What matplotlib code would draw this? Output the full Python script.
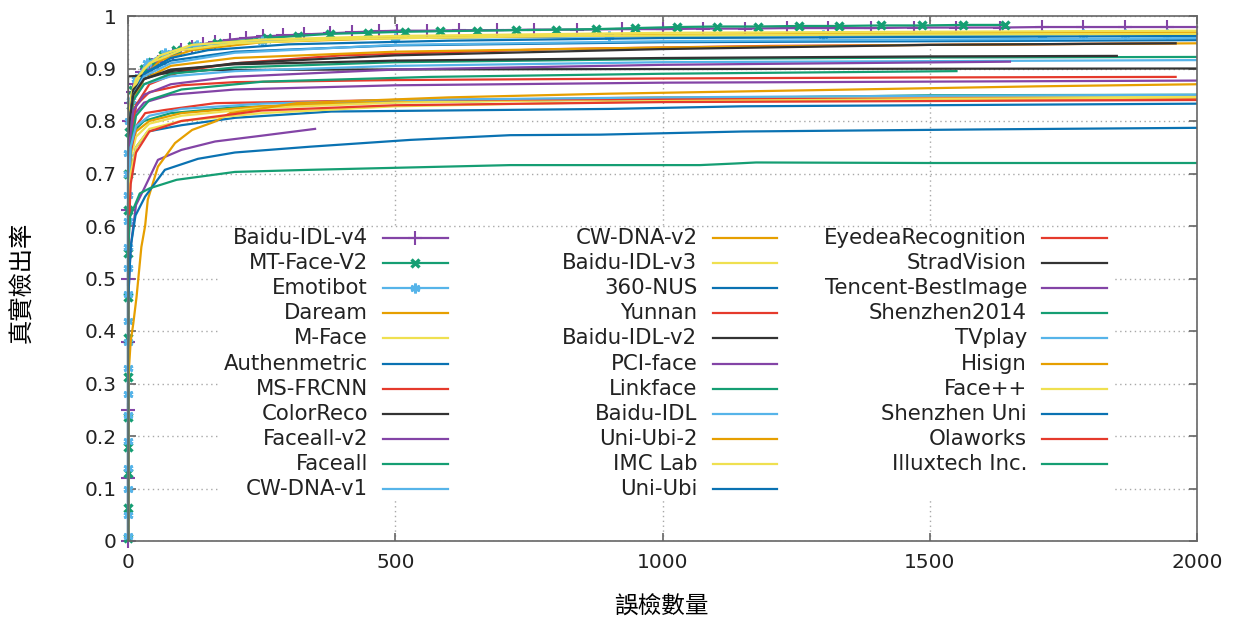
import matplotlib
matplotlib.use("Agg")
import matplotlib.pyplot as plt
from matplotlib.patches import Rectangle
from matplotlib.ticker import FuncFormatter

# FDDB discrete ROC: false positives vs. true positive rate
names = [
    "Baidu-IDL-v4", "MT-Face-V2", "Emotibot", "Daream", "M-Face", "Authenmetric",
    "MS-FRCNN", "ColorReco", "Faceall-v2", "Faceall", "CW-DNA-v1",
    "CW-DNA-v2", "Baidu-IDL-v3", "360-NUS", "Yunnan", "Baidu-IDL-v2", "PCI-face",
    "Linkface", "Baidu-IDL", "Uni-Ubi-2", "IMC Lab", "Uni-Ubi",
    "EyedeaRecognition", "StradVision", "Tencent-BestImage", "Shenzhen2014",
    "TVplay", "Hisign", "Face++", "Shenzhen Uni", "Olaworks", "Illuxtech Inc.",
]

fp_counts = [
    [0, 0, 0, 0, 0, 0, 2, 5, 9, 14, 20, 27, 35, 45, 57, 70, 85, 100, 120, 140, 163, 190,
     220, 253, 290, 330, 378, 420, 470, 503, 560, 620, 690, 760, 840, 924, 1000, 1076,
     1154, 1233, 1310, 1390, 1470, 1550, 1631, 1710, 1787, 1865, 1944, 2000],
    [0, 0, 0, 0, 0, 0, 0, 0, 0, 0, 0, 2, 5, 10, 18, 30, 45, 65, 90, 120, 166, 260, 318,
     378, 449, 518, 584, 653, 725, 800, 875, 949, 1027, 1102, 1179, 1255, 1330, 1408,
     1485, 1562, 1641],
    [0, 0, 0, 0, 0, 0, 0, 0, 0, 0, 0, 0, 0, 0, 0, 0, 0, 2, 6, 15, 35, 70, 130, 250, 500,
     900, 1300, 1710, 1787, 1865, 1944, 2000],
    [0, 0, 3, 10, 25, 60, 120, 250, 500, 1000, 1500, 2000],
    [0, 0, 2, 6, 15, 30, 60, 120, 250, 500, 1000, 2000],
    [0, 0, 3, 10, 30, 80, 150, 300, 600, 1000, 2000],
    [0, 0, 5, 15, 40, 100, 200, 400, 800, 1200, 1960],
    [0, 0, 20, 60, 150, 400, 1000, 2000],
    [0, 0, 3, 10, 30, 80, 200, 500, 1000, 2000],
    [0, 0, 3, 10, 30, 80, 200, 500, 1000, 1500, 2000],
    [0, 0, 3, 10, 30, 80, 200, 500, 1000, 2000],
    [0, 0, 3, 10, 30, 80, 200, 500, 1000, 1500, 2000],
    [0, 0, 2, 6, 15, 40, 100, 200, 400, 800, 1500, 2000],
    [0, 0, 3, 10, 30, 80, 200, 500, 1000, 2000],
    [0, 0, 5, 15, 40, 100, 200, 500, 1000, 1500, 1960],
    [0, 0, 3, 10, 30, 80, 200, 500, 1000, 1500, 1960],
    [0, 0, 5, 15, 32, 56, 100, 163, 250, 350],
    [0, 0, 3, 10, 30, 80, 200, 500, 1000, 1500, 2000],
    [0, 0, 3, 10, 30, 80, 200, 500, 1000, 2000],
    [0, 0, 5, 15, 40, 100, 250, 500, 1000, 2000],
    [0, 0, 5, 15, 40, 100, 250, 500, 1000, 2000],
    [0, 0, 5, 15, 37, 100, 200, 380, 900, 1150, 2000],
    [0, 0, 5, 15, 32, 69, 163, 500, 1000, 2000],
    [0, 0, 3, 10, 30, 80, 200, 500, 1000, 1500, 1850],
    [0, 0, 3, 10, 30, 80, 191, 500, 1000, 1650],
    [0, 0, 5, 15, 40, 100, 253, 565, 1000, 1550],
    [0, 0, 5, 15, 40, 100, 250, 500, 1000, 1500, 2000],
    [0, 0, 5, 10, 16, 25, 32, 37, 56, 88, 120, 163, 191, 316, 600, 900, 1300, 1700, 2000],
    [0, 0, 5, 15, 40, 100, 250, 500, 1000, 2000],
    [0, 0, 5, 14, 32, 69, 131, 200, 340, 528, 715, 883, 1150, 1600, 2000],
    [0, 0, 5, 15, 40, 100, 250, 500, 1000, 2000],
    [0, 0, 4, 22, 41, 91, 200, 340, 715, 1070, 1135, 1175, 1500, 2000],
]

detect_rates = [
    [0, 0.12, 0.25, 0.38, 0.5, 0.63, 0.80, 0.835, 0.855, 0.87, 0.882, 0.893, 0.90, 0.906,
     0.913, 0.92, 0.928, 0.935, 0.941, 0.946, 0.951, 0.955, 0.958, 0.961, 0.963, 0.965,
     0.967, 0.969, 0.971, 0.972, 0.972, 0.973, 0.973, 0.974, 0.974, 0.975, 0.975, 0.976,
     0.976, 0.977, 0.977, 0.977, 0.978, 0.978, 0.978, 0.979, 0.979, 0.979, 0.979, 0.979],
    [0.006, 0.063, 0.13, 0.18, 0.236, 0.312, 0.387, 0.465, 0.549, 0.63, 0.70, 0.78, 0.83,
     0.86, 0.88, 0.90, 0.912, 0.925, 0.935, 0.942, 0.948, 0.958, 0.962, 0.966, 0.968,
     0.970, 0.971, 0.972, 0.973, 0.974, 0.975, 0.977, 0.979, 0.980, 0.980, 0.981, 0.981,
     0.982, 0.982, 0.983, 0.983],
    [0.01, 0.05, 0.10, 0.14, 0.19, 0.24, 0.28, 0.33, 0.38, 0.42, 0.47, 0.52, 0.56, 0.61,
     0.66, 0.70, 0.74, 0.80, 0.84, 0.88, 0.91, 0.93, 0.945, 0.953, 0.958, 0.961, 0.963,
     0.964, 0.965, 0.965, 0.966, 0.966],
    [0, 0.72, 0.79, 0.84, 0.88, 0.915, 0.935, 0.95, 0.958, 0.964, 0.967, 0.969],
    [0, 0.70, 0.78, 0.83, 0.87, 0.90, 0.925, 0.945, 0.955, 0.962, 0.968, 0.972],
    [0, 0.73, 0.80, 0.85, 0.89, 0.92, 0.935, 0.946, 0.953, 0.958, 0.962],
    [0, 0.62, 0.76, 0.83, 0.87, 0.895, 0.91, 0.925, 0.937, 0.943, 0.948],
    [0, 0.885, 0.886, 0.89, 0.897, 0.898, 0.899, 0.90],
    [0, 0.66, 0.76, 0.81, 0.835, 0.85, 0.86, 0.868, 0.873, 0.877],
    [0, 0.64, 0.74, 0.78, 0.80, 0.815, 0.826, 0.836, 0.842, 0.849, 0.850],
    [0, 0.70, 0.80, 0.84, 0.87, 0.885, 0.895, 0.905, 0.912, 0.916],
    [0, 0.70, 0.79, 0.84, 0.88, 0.905, 0.92, 0.932, 0.940, 0.945, 0.948],
    [0, 0.73, 0.80, 0.85, 0.88, 0.91, 0.935, 0.948, 0.956, 0.962, 0.965, 0.966],
    [0, 0.72, 0.80, 0.85, 0.89, 0.915, 0.932, 0.944, 0.950, 0.954],
    [0, 0.66, 0.78, 0.83, 0.855, 0.868, 0.874, 0.878, 0.881, 0.883, 0.884],
    [0, 0.72, 0.80, 0.86, 0.88, 0.895, 0.91, 0.925, 0.937, 0.945, 0.948],
    [0, 0.45, 0.56, 0.64, 0.675, 0.726, 0.745, 0.761, 0.772, 0.785],
    [0, 0.70, 0.79, 0.84, 0.87, 0.89, 0.902, 0.912, 0.918, 0.921, 0.922],
    [0, 0.72, 0.80, 0.85, 0.885, 0.91, 0.93, 0.945, 0.952, 0.958],
    [0, 0.62, 0.74, 0.78, 0.80, 0.815, 0.828, 0.838, 0.845, 0.848],
    [0, 0.60, 0.73, 0.77, 0.795, 0.81, 0.825, 0.835, 0.842, 0.846],
    [0, 0.58, 0.70, 0.75, 0.78, 0.792, 0.806, 0.818, 0.823, 0.828, 0.833],
    [0, 0.62, 0.74, 0.79, 0.815, 0.821, 0.834, 0.84, 0.842, 0.843],
    [0, 0.70, 0.80, 0.85, 0.88, 0.898, 0.908, 0.915, 0.92, 0.923, 0.924],
    [0, 0.66, 0.76, 0.82, 0.85, 0.87, 0.884, 0.898, 0.907, 0.913],
    [0, 0.62, 0.75, 0.81, 0.84, 0.86, 0.875, 0.884, 0.89, 0.895],
    [0, 0.64, 0.75, 0.79, 0.81, 0.823, 0.833, 0.84, 0.845, 0.848, 0.85],
    [0, 0.30, 0.38, 0.415, 0.465, 0.56, 0.60, 0.65, 0.713, 0.758, 0.783, 0.799, 0.815,
     0.834, 0.845, 0.852, 0.859, 0.866, 0.870],
    [0, 0.60, 0.70, 0.75, 0.785, 0.80, 0.815, 0.828, 0.838, 0.845],
    [0, 0.45, 0.56, 0.62, 0.656, 0.707, 0.728, 0.740, 0.751, 0.764, 0.773, 0.774, 0.78,
     0.784, 0.787],
    [0, 0.55, 0.68, 0.74, 0.78, 0.80, 0.82, 0.83, 0.836, 0.84],
    [0, 0.55, 0.618, 0.662, 0.672, 0.688, 0.703, 0.707, 0.716, 0.716, 0.719, 0.721, 0.72,
     0.72],
]

# gnuplot-like colour cycle
palette = ["#8344a6", "#159e73", "#56b4e9", "#e69f00", "#efe050", "#0a72b2", "#e53a2c", "#333333"]
colors = [palette[i % len(palette)] for i in range(len(names))]
colors[-1] = palette[1]
markers = {0: dict(marker="+", ms=10, mew=1.5),
           1: dict(marker="x", ms=6, mew=2.4),
           2: dict(marker=(6, 2, 0), ms=7, mew=2.0)}

fig = plt.figure(figsize=(12.34, 6.25), dpi=100)
ax = fig.add_axes([128 / 1234, 84 / 625, 1069 / 1234, 525 / 625])

for i, name in enumerate(names):
    style = markers.get(i, {})
    ax.plot(fp_counts[i], detect_rates[i], color=colors[i], lw=1.6, zorder=2,
            clip_on=not style, markevery=slice(0, -1) if i != 1 else None, **style)

ax.set_xlim(0, 2000)
ax.set_ylim(0, 1)
ax.set_xticks([0, 500, 1000, 1500, 2000])
ax.set_yticks([i / 10 for i in range(11)])
ax.yaxis.set_major_formatter(FuncFormatter(lambda v, _: f"{v:g}"))
ax.set_axisbelow(True)
ax.grid(True, color="#a8a8a8", linestyle=(0, (1, 2.5)), lw=1.0)
ax.tick_params(direction="in", top=True, right=True, length=6, width=1.2,
               color="#666666", labelsize=14.5, labelcolor="#222222")
ax.tick_params(axis="x", pad=9)
ax.tick_params(axis="y", pad=8)
for sp in ax.spines.values():
    sp.set_color("#666666")
    sp.set_linewidth(1.2)

cjk = ["Noto Sans CJK TC", "DejaVu Sans"]
ax.set_xlabel("誤檢數量", family=cjk, fontsize=17, va="center")
ax.set_ylabel("真實檢出率", family=cjk, fontsize=17.5, va="center")
ax.xaxis.set_label_coords(0.4986, -0.1257)
ax.yaxis.set_label_coords(-0.0992, 0.493)

# gnuplot-style key: right-aligned labels, sample line on the right, opaque box
ax.add_patch(Rectangle((0.0842, 0.078), 0.839, 0.516, transform=ax.transAxes,
                       facecolor="white", edgecolor="none", zorder=1.5))
rows = 11
for i, name in enumerate(names):
    col, row = divmod(i, rows)
    tx = (368 + 329.5 * col - 128) / 1069
    ty = (541 - 238 - 25.1 * row) / 525
    ax.text(tx, ty, name, transform=ax.transAxes, ha="right", va="center",
            fontsize=15.3, color="#222222", zorder=3)
    x0 = tx + 15 / 1069
    x1 = tx + 80 / 1069
    ax.plot([x0, x1], [ty, ty], transform=ax.transAxes, color=colors[i], lw=1.6,
            clip_on=False, zorder=3)
    if i in markers:
        ax.plot([(x0 + x1) / 2], [ty], transform=ax.transAxes, color=colors[i],
                clip_on=False, zorder=3, **markers[i])

fig.savefig("out.png", dpi=100)
